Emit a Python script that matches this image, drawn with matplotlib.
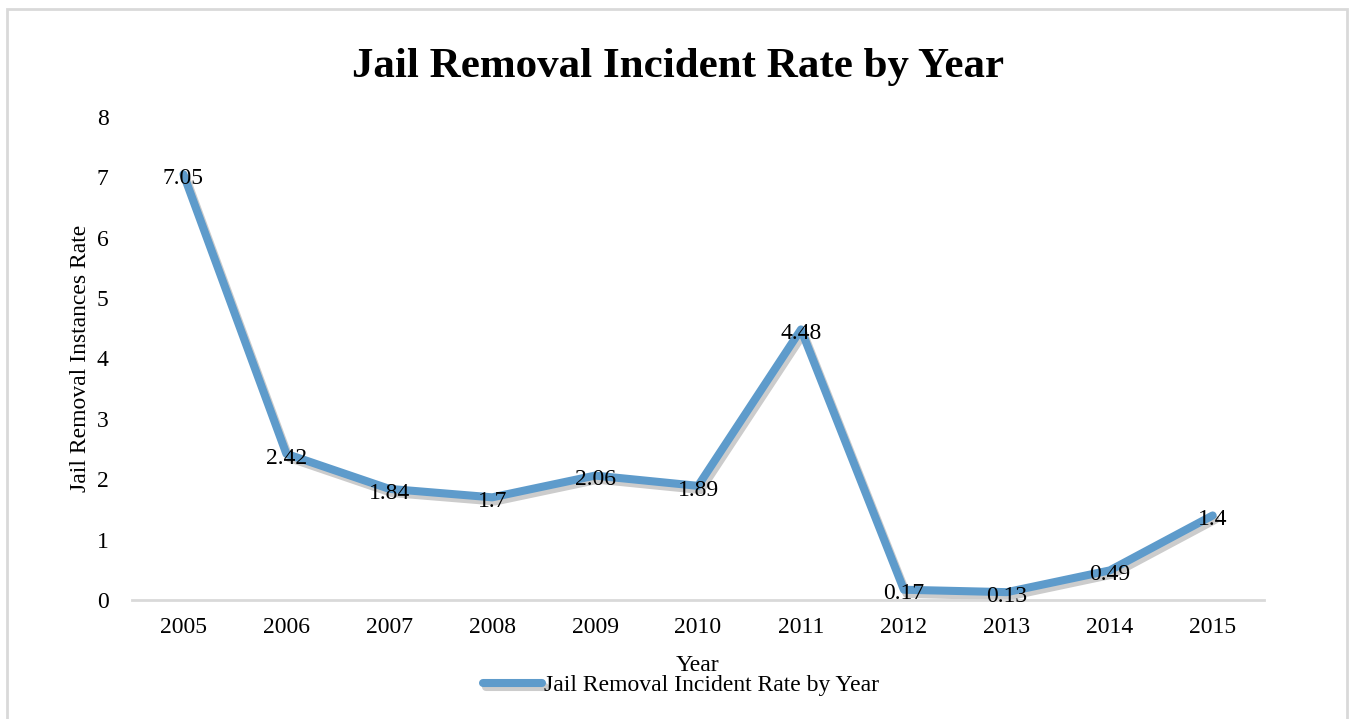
import matplotlib.pyplot as plt
import matplotlib.patheffects as pe
from matplotlib.patches import Rectangle

plt.rcParams['font.family'] = ['Liberation Serif', 'DejaVu Serif']

years = ['2005', '2006', '2007', '2008', '2009', '2010', '2011', '2012', '2013', '2014', '2015']
rates = [7.05, 2.42, 1.84, 1.7, 2.06, 1.89, 4.48, 0.17, 0.13, 0.49, 1.4]
yticks = [0, 1, 2, 3, 4, 5, 6, 7, 8]

fig = plt.figure(figsize=(13.51, 7.19), dpi=100)
ax = fig.add_axes([0.0977, 0.1655, 0.838, 0.672])

x = list(range(len(years)))
line_color = '#5E9BCB'
ax.plot(x, rates, color=line_color, lw=5.8, solid_capstyle='round', solid_joinstyle='round',
        label='Jail Removal Incident Rate by Year',
        path_effects=[pe.SimpleLineShadow(offset=(2, -3), shadow_color='gray', alpha=0.4),
                      pe.Normal()])

# data labels, centred on the points
for xi, v in zip(x, rates):
    ax.annotate(f'{v:g}', (xi, v), xytext=(0, -3), textcoords='offset points',
                ha='center', va='center', fontsize=17, color='black')

ax.set_xlim(-0.5, len(years) - 0.5)
ax.set_ylim(0, 8)
ax.set_xticks(x)
ax.set_xticklabels(years, fontsize=17)
ax.set_yticks(yticks)
ax.set_yticklabels([str(t) for t in yticks], fontsize=17)
ax.tick_params(length=0, pad=12)
ax.tick_params(axis='y', pad=17)

for s in ['top', 'right', 'left']:
    ax.spines[s].set_visible(False)
ax.spines['bottom'].set_color('#D9D9D9')
ax.spines['bottom'].set_linewidth(2)

ax.set_ylabel('Jail Removal Instances Rate', fontsize=17, labelpad=4)
fig.text(0.516, 0.074, 'Year', fontsize=17, ha='center', va='center')
fig.text(0.502, 0.907, 'Jail Removal Incident Rate by Year', fontsize=31, fontweight='bold',
         ha='center', va='center')

leg = fig.legend(loc='center', bbox_to_anchor=(0.504, 0.047), frameon=False, fontsize=17,
                 handlelength=2.5, handletextpad=0.05)

fig.patches.append(Rectangle((0.005, -0.02), 0.992, 1.007, transform=fig.transFigure,
                             fill=False, edgecolor='#D9D9D9', lw=2))

fig.savefig('out.png', dpi=100)
